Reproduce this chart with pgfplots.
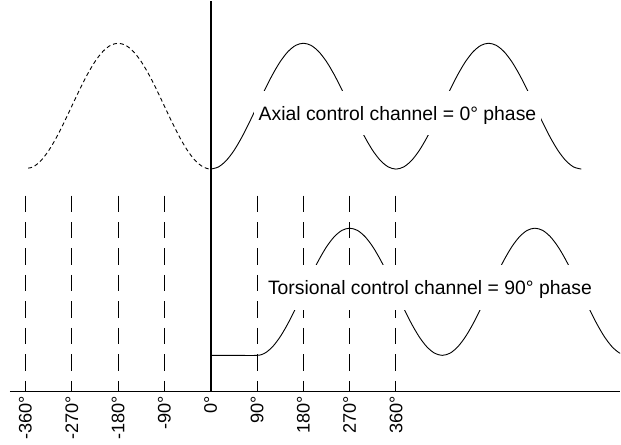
\documentclass[border=0pt]{standalone}
\usepackage{fontspec}
\setmainfont{Liberation Sans}
\usepackage{pgfplots}
\pgfplotsset{compat=1.18}
\begin{document}
\begin{tikzpicture}
\begin{axis}[
  width=611bp, height=396bp, scale only axis,
  xmin=-390.1, xmax=795.7, ymin=0, ymax=396,
  axis x line*=bottom, axis y line=none,
  axis line style={line width=1.6bp},
  xtick={-360,-270,-180,-90,0,90,180,270,360},
  xticklabels={-360°,-270°,-180°,-90°,0°,90°,180°,270°,360°},
  major tick length=0pt,
  xticklabel style={rotate=90, anchor=east, inner sep=4.5bp, font=\fontsize{18.2bp}{21bp}\selectfont},
  clip mode=individual,
]
% dashed guide lines
\addplot[black, line width=1.05bp, dash pattern=on 16.5bp off 10bp] coordinates {(-360,196) (-360,0)};
\addplot[black, line width=1.05bp, dash pattern=on 16.5bp off 10bp] coordinates {(-270,196) (-270,0)};
\addplot[black, line width=1.05bp, dash pattern=on 16.5bp off 10bp] coordinates {(-180,196) (-180,0)};
\addplot[black, line width=1.05bp, dash pattern=on 16.5bp off 10bp] coordinates {(-90,196) (-90,0)};
\addplot[black, line width=1.05bp, dash pattern=on 16.5bp off 10bp] coordinates {(90,196) (90,0)};
\addplot[black, line width=1.05bp, dash pattern=on 16.5bp off 10bp] coordinates {(180,196) (180,0)};
\addplot[black, line width=1.05bp, dash pattern=on 16.5bp off 10bp] coordinates {(270,196) (270,0)};
\addplot[black, line width=1.05bp, dash pattern=on 16.5bp off 10bp] coordinates {(359.5,196) (359.5,0)};
% vertical axis
\addplot[black, line width=1.6bp] coordinates {(0,0) (0,391)};
% dashed curve (negative side)
\addplot[black, line width=0.9bp, smooth, dash pattern=on 4bp off 3bp] table {
x y
-355 223.5
-345 224.65
-330 230.94
-315 240.95
-300 254.0
-285 269.2
-270 285.5
-255 301.8
-240 317.0
-225 330.05
-210 340.06
-195 346.35
-180 348.5
-165 346.35
-150 340.06
-135 330.05
-120 317.0
-105 301.8
-90 285.5
-75 269.2
-60 254.0
-45 240.95
-30 230.94
-15 224.65
-3 222.6
};
% axial channel
\addplot[black, line width=0.9bp, smooth] table {
x y
0 222.5
15 224.65
30 230.94
45 240.95
60 254.0
75 269.2
90 285.5
105 301.8
120 317.0
135 330.05
150 340.06
165 346.35
180 348.5
195 346.35
210 340.06
225 330.05
240 317.0
255 301.8
270 285.5
285 269.2
300 254.0
315 240.95
330 230.94
345 224.65
360 222.5
375 224.65
390 230.94
405 240.95
420 254.0
435 269.2
450 285.5
465 301.8
480 317.0
495 330.05
510 340.06
525 346.35
540 348.5
555 346.35
570 340.06
585 330.05
600 317.0
615 301.8
630 285.5
645 269.2
660 254.0
675 240.95
690 230.94
705 224.65
720 222.5
};
% torsional channel
\addplot[black, line width=0.9bp, smooth] table {
x y
0 36.0
45 36.0
90 36.0
105 38.17
120 44.53
135 54.64
150 67.83
165 83.18
180 99.65
195 116.12
210 131.48
225 144.66
240 154.77
255 161.13
270 163.3
285 161.13
300 154.77
315 144.66
330 131.48
345 116.12
360 99.65
375 83.18
390 67.83
405 54.64
420 44.53
435 38.17
450 36.0
465 38.17
480 44.53
495 54.64
510 67.83
525 83.18
540 99.65
555 116.12
570 131.48
585 144.66
600 154.77
615 161.13
630 163.3
645 161.13
660 154.77
675 144.66
690 131.48
705 116.12
720 99.65
735 83.18
750 67.83
765 54.64
780 44.53
795 38.17
810 36.0
};
\node[fill=white, inner xsep=5bp, inner ysep=0pt, text height=13.9bp, text depth=0pt, minimum height=44bp, font=\fontsize{19.4bp}{22bp}\selectfont] at (axis cs:362.9,278.5) {Axial control channel = 0° phase};
\node[fill=white, inner xsep=5bp, inner ysep=0pt, text height=13.9bp, text depth=0pt, minimum height=45bp, font=\fontsize{19.4bp}{22bp}\selectfont] at (axis cs:426,104.3) {Torsional control channel = 90° phase};
\end{axis}
\path ([xshift=-10bp,yshift=-52bp]current axis.south west);
\end{tikzpicture}
\end{document}
